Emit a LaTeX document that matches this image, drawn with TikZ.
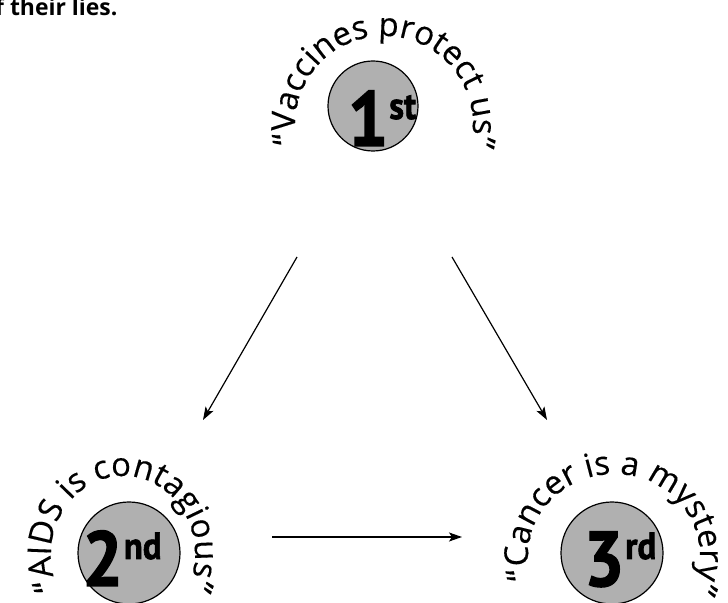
\documentclass[tikz,border=0pt]{standalone}
\usepackage{fontspec}
\setmainfont{Open Sans}
\newfontfamily\numfont{PT Sans}[BoldFeatures={FakeBold=1.8}]
\newfontfamily\arcfam{Open Sans}[UprightFeatures={FakeBold=0.3}]
\usetikzlibrary{decorations.text,arrows.meta}
\newcommand\arcfont{\arcfam\fontsize{33}{33}\selectfont}
\newcommand\rank[2]{\scalebox{0.92}[1]{#1\hspace{1bp}\raisebox{27bp}{\fontsize{38}{38}\selectfont #2}}}
\tikzset{
  disc/.style={circle,draw=black,line width=1.2bp,fill=black!31,minimum size=#1,inner sep=0pt},
  ranktext/.style={font=\numfont\bfseries\fontsize{78}{78}\selectfont,inner sep=0pt,anchor=base},
  arctext/.style={decorate,decoration={text along path,text align=center,text={#1}}},
  flow/.style={line width=1.2bp,-{Stealth[length=13bp,width=9bp,inset=3bp]}},
}
\begin{document}
\begin{tikzpicture}[x=1bp,y=1bp]
\useasboundingbox (0,0) rectangle (728,603);
% top-left cut text
\node[anchor=base west,inner sep=0pt,font=\bfseries\fontsize{23}{23}\selectfont] (lies) at (-5,587) {f their lies.};
% discs
\node[disc=90bp] (d1) at (373,497) {};
\node[disc=102bp] (d2) at (129,50) {};
\node[disc=102bp] (d3) at (612,50) {};
% rank labels
\node[ranktext] (r1) at (382,457) {\rank{1}{st}};
\node[ranktext] (r2) at (122,17) {\rank{2}{nd}};
\node[ranktext] (r3) at (620,17) {\rank{3}{rd}};
% arc texts
\path[arctext={|\arcfont|“Vaccines protect us”}] (384,478) ++(202:89bp) arc[start angle=202,end angle=-24,radius=89bp];
\path[arctext={|\arcfont|“AIDS is contagious”}] (123,49) ++(210:72bp and 78bp) arc[start angle=210,end angle=-30,x radius=72bp,y radius=78bp];
\path[arctext={|\arcfont|“Cancer is a mystery”}] (614,47) ++(198:86bp and 82bp) arc[start angle=198,end angle=-27,x radius=86bp,y radius=82bp];
% connectors
\coordinate (a1) at (297,346);
\coordinate (b1) at (203,183);
\coordinate (a2) at (452,346);
\coordinate (b2) at (547,183);
\coordinate (a3) at (272,66);
\coordinate (b3) at (462,66);
\draw[flow] (a1) -- (b1);
\draw[flow] (a2) -- (b2);
\draw[flow] (a3) -- (b3);
\end{tikzpicture}
\end{document}
